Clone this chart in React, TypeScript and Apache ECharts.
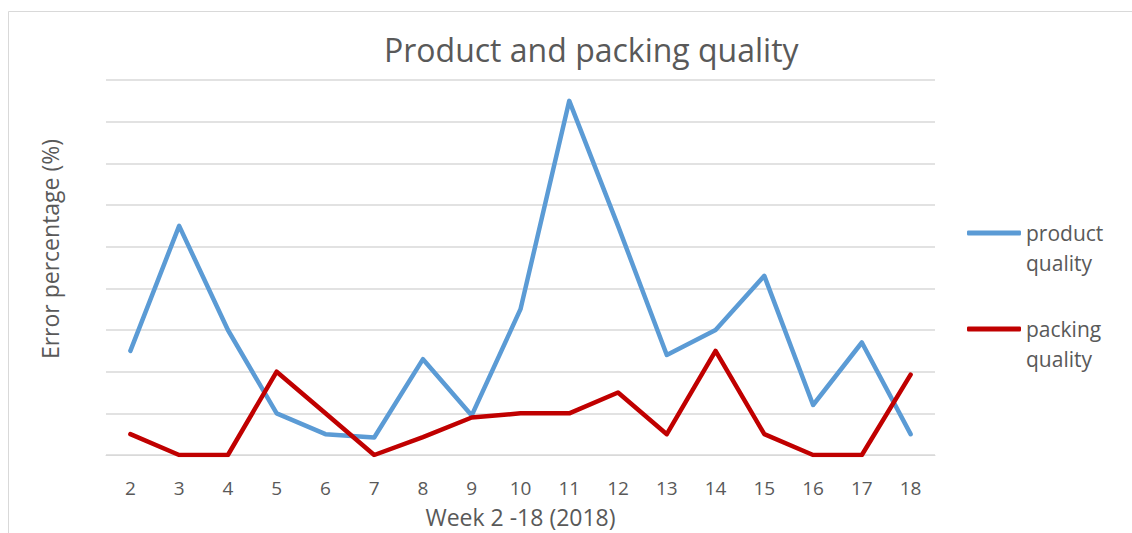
import React, { useEffect, useRef } from "react";
import * as echarts from "echarts";

const weeks = ["2", "3", "4", "5", "6", "7", "8", "9", "10", "11", "12", "13", "14", "15", "16", "17", "18"];
const productQuality = [2.5, 5.5, 3.0, 1.0, 0.5, 0.42, 2.3, 0.95, 3.5, 8.5, 5.5, 2.4, 3.0, 4.3, 1.2, 2.7, 0.5];
const packingQuality = [0.5, 0, 0, 2.0, 1.0, 0, 0.43, 0.9, 1.0, 1.0, 1.5, 0.5, 2.5, 0.5, 0, 0, 1.93];
const seriesNames = ["product quality", "packing quality"];

const FONT = "'Open Sans', sans-serif";
const TEXT = "#595959";
const GRIDC = "#d9d9d9";

export default function App() {
  const ref = useRef<HTMLDivElement>(null);
  useEffect(() => {
    if (!ref.current) return;
    const chart = echarts.init(ref.current, null, { renderer: "svg" });
    chart.setOption({
      animation: false,
      backgroundColor: "#ffffff",
      textStyle: { fontFamily: FONT },
      title: {
        text: "Product and packing quality",
        left: 384,
        top: 33,
        padding: 0,
        textStyle: { fontFamily: FONT, fontSize: 32, fontWeight: "normal", color: TEXT },
      },
      graphic: [
        {
          type: "rect",
          shape: { x: 8.5, y: 11.5, width: 1300, height: 700 },
          style: { fill: "none", stroke: GRIDC, lineWidth: 1 },
          silent: true,
          z: -10,
        },
      ],
      legend: {
        orient: "vertical",
        left: 967,
        top: 188,
        padding: 0,
        itemWidth: 54,
        itemHeight: 5,
        itemGap: 6,
        icon: "roundRect",
        formatter: (name: string) => "\n" + name.replace(" ", "\n"),
        textStyle: {
          fontFamily: FONT,
          fontSize: 21,
          color: TEXT,
          lineHeight: 30,
        },
        data: seriesNames,
      },
      grid: { left: 106, right: 197, top: 80, bottom: 74, containLabel: false },
      xAxis: {
        type: "category",
        data: weeks,
        boundaryGap: true,
        name: "Week 2 -18 (2018)",
        nameLocation: "middle",
        nameGap: 50,
        nameTextStyle: { fontFamily: FONT, fontSize: 23, color: TEXT },
        axisLine: { show: true, lineStyle: { color: GRIDC, width: 1 } },
        axisTick: { show: false },
        axisLabel: { fontFamily: FONT, fontSize: 19, color: TEXT, margin: 23 },
      },
      yAxis: {
        type: "value",
        min: 0,
        max: 9,
        interval: 1,
        name: "Error percentage (%)",
        nameLocation: "middle",
        nameGap: 45,
        nameTextStyle: { fontFamily: FONT, fontSize: 23, color: TEXT, padding: [0, 0, 0, 37] },
        axisLine: { show: false },
        axisTick: { show: false },
        axisLabel: { show: false },
        splitLine: { show: true, lineStyle: { color: GRIDC, width: 1.5 } },
      },
      series: [
        {
          name: seriesNames[0],
          type: "line",
          data: productQuality,
          symbol: "none",
          lineStyle: { color: "#5b9bd5", width: 4.5, cap: "round", join: "round" },
          itemStyle: { color: "#5b9bd5" },
          z: 2,
        },
        {
          name: seriesNames[1],
          type: "line",
          data: packingQuality,
          symbol: "none",
          lineStyle: { color: "#c00000", width: 4.5, cap: "round", join: "round" },
          itemStyle: { color: "#c00000" },
          z: 3,
        },
      ],
    });
    return () => chart.dispose();
  }, []);
  return (
    <div
      ref={ref}
      style={{ position: "fixed", left: 0, top: 0, width: 1132, height: 533 }}
    />
  );
}
